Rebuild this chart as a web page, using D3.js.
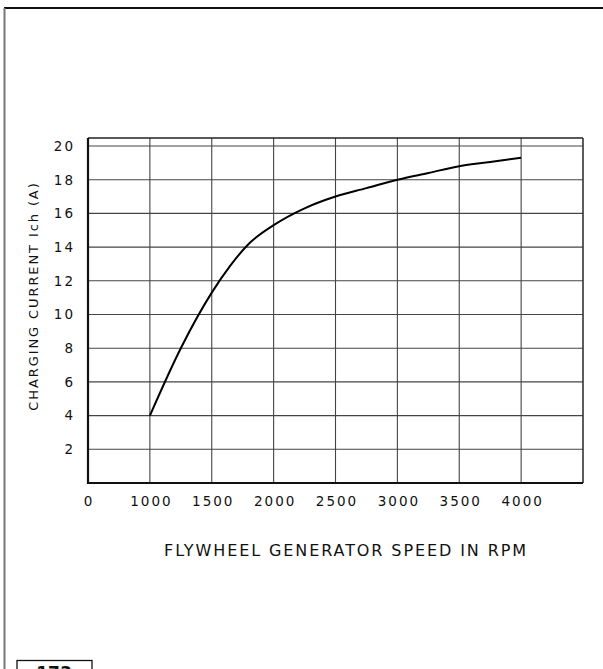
<!DOCTYPE html>
<html>
<head>
<meta charset="utf-8">
<script src="https://cdn.jsdelivr.net/npm/d3@7"></script>
<style>
  html, body { margin: 0; padding: 0; background: #fff; }
  svg { display: block; }
  text { font-family: "DejaVu Sans", sans-serif; fill: #111; }
</style>
</head>
<body>
<svg id="chart" width="603" height="669"></svg>
<script>
// Charging current versus flywheel generator speed
const speedRpm = [1000, 1250, 1500, 1650, 1800, 2000, 2250, 2500, 2750, 3000, 3250, 3500, 3750, 4000];
const currentA = [4.0, 8.0, 11.3, 12.9, 14.2, 15.3, 16.3, 17.0, 17.5, 18.0, 18.4, 18.8, 19.05, 19.3];

const xTickValues = [1000, 1500, 2000, 2500, 3000, 3500, 4000];
const xTickLabels = ["1000", "1500", "2000", "2500", "3000", "3500", "4000"];
const yTickValues = [2, 4, 6, 8, 10, 12, 14, 16, 18, 20];
const yTickLabels = ["2", "4", "6", "8", "10", "12", "14", "16", "18", "20"];

const svg = d3.select("#chart");

// page frame
svg.append("line").attr("x1", 4).attr("x2", 603).attr("y1", 8).attr("y2", 8)
  .attr("stroke", "#111").attr("stroke-width", 2);
svg.append("line").attr("x1", 4.5).attr("x2", 4.5).attr("y1", 8).attr("y2", 669)
  .attr("stroke", "#777").attr("stroke-width", 2);

// plot area (the speed axis is broken: its left edge reads 0)
const plotL = 88, plotR = 583, plotT = 138, plotB = 483;
const x = d3.scaleLinear().domain([500, 4500]).range([plotL, plotR]);
const y = d3.scaleLinear().domain([0, 20]).range([plotB, 146]);

const g = svg.append("g");

// grid
g.selectAll(".vgrid").data(xTickValues).join("line")
  .attr("x1", d => x(d)).attr("x2", d => x(d))
  .attr("y1", plotT).attr("y2", plotB)
  .attr("stroke", "#444").attr("stroke-width", 1.1);
g.selectAll(".hgrid").data(yTickValues).join("line")
  .attr("x1", plotL).attr("x2", plotR)
  .attr("y1", d => y(d)).attr("y2", d => y(d))
  .attr("stroke", "#444").attr("stroke-width", 1.1);

// frame
g.append("line").attr("x1", plotL).attr("x2", plotR).attr("y1", plotT).attr("y2", plotT)
  .attr("stroke", "#222").attr("stroke-width", 1.3);
g.append("line").attr("x1", plotR).attr("x2", plotR).attr("y1", plotT).attr("y2", plotB)
  .attr("stroke", "#333").attr("stroke-width", 1.6);
g.append("line").attr("x1", plotL).attr("x2", plotL).attr("y1", plotT).attr("y2", plotB + 1)
  .attr("stroke", "#111").attr("stroke-width", 2.2);
g.append("line").attr("x1", plotL).attr("x2", plotR).attr("y1", plotB).attr("y2", plotB)
  .attr("stroke", "#111").attr("stroke-width", 2.2);

// tick labels via d3 axes, domain and tick lines hidden
const tickFont = "13.5px";
const xAxis = d3.axisBottom(x).tickValues(xTickValues)
  .tickFormat((d, i) => xTickLabels[i]).tickSize(0).tickPadding(13);
const xa = svg.append("g").attr("transform", `translate(1,${plotB})`).call(xAxis);
xa.select(".domain").remove();
xa.selectAll("text").style("font-family", "DejaVu Sans, sans-serif")
  .style("font-size", tickFont).style("letter-spacing", "2px").attr("fill", "#111");
svg.append("text").attr("x", x(500)).attr("y", 506).attr("text-anchor", "middle")
  .style("font-size", tickFont).text("0");

const yAxis = d3.axisLeft(y).tickValues(yTickValues)
  .tickFormat((d, i) => yTickLabels[i]).tickSize(0).tickPadding(13);
const ya = svg.append("g").attr("transform", `translate(${plotL},0)`).call(yAxis);
ya.select(".domain").remove();
ya.selectAll("text").style("font-family", "DejaVu Sans, sans-serif")
  .style("font-size", tickFont).style("letter-spacing", "2px").attr("fill", "#111");

// curve
const line = d3.line().x((d, i) => x(speedRpm[i])).y(d => y(d)).curve(d3.curveMonotoneX);
g.append("path").datum(currentA).attr("d", line)
  .attr("fill", "none").attr("stroke", "#000").attr("stroke-width", 2);

// axis titles
svg.append("text").attr("x", 346).attr("y", 556).attr("text-anchor", "middle")
  .style("font-size", "16px").style("letter-spacing", "1.9px").text("FLYWHEEL GENERATOR SPEED IN RPM");
svg.append("text").attr("transform", "translate(38,296) rotate(-90)").attr("text-anchor", "middle")
  .style("font-size", "13px").style("letter-spacing", "1.9px").text("CHARGING CURRENT Ich  (A)");

// page number box
svg.append("rect").attr("x", 17).attr("y", 660.5).attr("width", 75).attr("height", 20)
  .attr("fill", "none").attr("stroke", "#111").attr("stroke-width", 1.3);
svg.append("text").attr("x", 54).attr("y", 679).attr("text-anchor", "middle")
  .style("font-size", "17px").style("font-weight", "bold").text("173");
</script>
</body>
</html>
